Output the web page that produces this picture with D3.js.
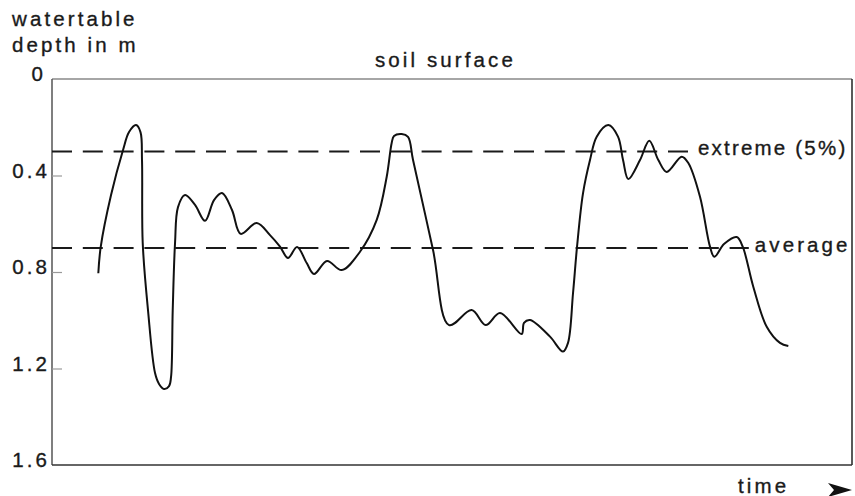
<!DOCTYPE html>
<html>
<head>
<meta charset="utf-8">
<script src="https://cdn.jsdelivr.net/npm/d3@7/dist/d3.min.js"></script>
<style>
  html, body { margin: 0; padding: 0; background: #fff; }
  svg { display: block; }
  text { font-family: "Liberation Sans", Arial, sans-serif; font-size: 20.5px; letter-spacing: 3.1px; fill: #1a1a1a; stroke: #1a1a1a; stroke-width: 0.35px; }
</style>
</head>
<body>
<svg id="chart" width="855" height="496"></svg>
<script>
// ---- data ----
const timeValues = [5.79, 6.09, 7.38, 8.88, 9.63, 10.5, 11.06, 11.25, 11.34, 12.0, 12.88, 13.38, 14.0, 14.63, 14.88, 15.09, 15.38, 15.75, 16.63, 17.88,
  19.13, 20.25, 21.25, 22.5, 23.59, 25.59, 27.25, 28.5, 29.5, 30.63, 31.84, 32.75, 34.38, 36.21, 38.5, 40.59, 41.84, 42.46, 42.75, 43.71,
  44.5, 45.13, 47.63, 49.63, 52.46, 54.21, 56.0, 58.71, 59.0, 59.75, 62.25, 63.88, 64.5, 65.13, 65.63, 66.38, 67.25, 68.09, 69.54, 70.75,
  71.38, 72.04, 73.5, 74.66, 75.79, 76.84, 78.71, 79.54, 81.0, 82.25, 82.79, 84.0, 85.59, 86.34, 87.66, 89.34, 91.0, 92.04];
const depthValues = [0.805, 0.696, 0.481, 0.294, 0.220, 0.191, 0.220, 0.336, 0.680, 0.958, 1.219, 1.264, 1.285, 1.273, 1.235, 0.958, 0.680, 0.531, 0.481, 0.522,
  0.588, 0.502, 0.473, 0.543, 0.642, 0.597, 0.647, 0.695, 0.742, 0.696, 0.763, 0.808, 0.754, 0.792, 0.716, 0.584, 0.405, 0.265, 0.236, 0.228,
  0.240, 0.336, 0.709, 1.020, 0.958, 1.020, 0.970, 1.057, 1.011, 0.999, 1.068, 1.130, 1.094, 0.887, 0.695, 0.473, 0.336, 0.239, 0.191, 0.239,
  0.336, 0.415, 0.336, 0.256, 0.336, 0.385, 0.322, 0.348, 0.488, 0.695, 0.737, 0.684, 0.655, 0.695, 0.861, 1.027, 1.094, 1.107];
const depthTicks = [0, 0.4, 0.8, 1.2, 1.6];
const refLevels = [
  { name: "extreme (5%)", depth: 0.3, end: 79.5 },
  { name: "average", depth: 0.7, end: 87.1 }
];
const yTitle = ["watertable", "depth in m"];
const topLabel = "soil surface";
const xTitle = "time";

// ---- layout ----
const svg = d3.select("#chart");
const L = 52, R = 852, T = 79, B = 465;
const x = d3.scaleLinear().domain([0, 100]).range([L, R]);
const y = d3.scaleLinear().domain([0, 1.6]).range([T, B]);
const LS = 3.1;

// frame
svg.append("line").attr("x1", L).attr("x2", R).attr("y1", T).attr("y2", T).attr("stroke", "#888").attr("stroke-width", 1.5);
svg.append("line").attr("x1", L).attr("x2", L).attr("y1", T).attr("y2", B).attr("stroke", "#555").attr("stroke-width", 1.5);
svg.append("line").attr("x1", R).attr("x2", R).attr("y1", T).attr("y2", B).attr("stroke", "#222").attr("stroke-width", 1.5);
svg.append("line").attr("x1", L).attr("x2", R).attr("y1", B).attr("y2", B).attr("stroke", "#333").attr("stroke-width", 1.5);

// ticks (inside)
const axis = d3.axisRight(y).tickValues(depthTicks.filter(d => d > 0 && d < 1.6)).tickSize(10).tickFormat("");
const ag = svg.append("g").attr("transform", `translate(${L},0)`).call(axis);
ag.select(".domain").remove();
ag.selectAll(".tick line").attr("stroke", "#999").attr("stroke-width", 1.2);

// tick labels
svg.selectAll("text.tl").data(depthTicks).enter().append("text")
  .attr("class", "tl")
  .attr("x", d => (d === 0 ? 43 : 47) + LS)
  .attr("y", d => y(d) + 2)
  .attr("text-anchor", "end")
  .text(d => d === 0 ? "0" : d3.format(".1f")(d));

// y title
svg.selectAll("text.yt").data(yTitle).enter().append("text")
  .attr("class", "yt").attr("x", 12).attr("y", (d, i) => 26 + i * 25.7).text(d => d);

// top label
svg.append("text").attr("x", 375).attr("y", 67).text(topLabel);

// reference dashed lines
svg.selectAll("line.ref").data(refLevels).enter().append("line")
  .attr("class", "ref")
  .attr("x1", L).attr("x2", d => x(d.end))
  .attr("y1", d => y(d.depth)).attr("y2", d => y(d.depth))
  .attr("stroke", "#1a1a1a").attr("stroke-width", 2)
  .attr("stroke-dasharray", "20,10.8");
svg.selectAll("text.ref").data(refLevels).enter().append("text")
  .attr("class", "ref")
  .attr("x", d => x(d.end) + (d.depth < 0.5 ? 10 : 6))
  .attr("y", d => y(d.depth) + 4)
  .style("letter-spacing", d => d.depth < 0.5 ? "2.2px" : "3.1px")
  .text(d => d.name);

// water table curve
const pts = timeValues.map((t, i) => [t, depthValues[i]]);
const line = d3.line().x(d => x(d[0])).y(d => y(d[1])).curve(d3.curveCatmullRom.alpha(0.5));
svg.append("path").attr("d", line(pts)).attr("fill", "none").attr("stroke", "#111").attr("stroke-width", 2);

// x title + arrow
svg.append("text").attr("x", 738).attr("y", 493).text(xTitle);
svg.append("path").attr("d", "M828,483 L852,490 L828,497 L834,490 Z").attr("fill", "#111");
</script>
</body>
</html>
